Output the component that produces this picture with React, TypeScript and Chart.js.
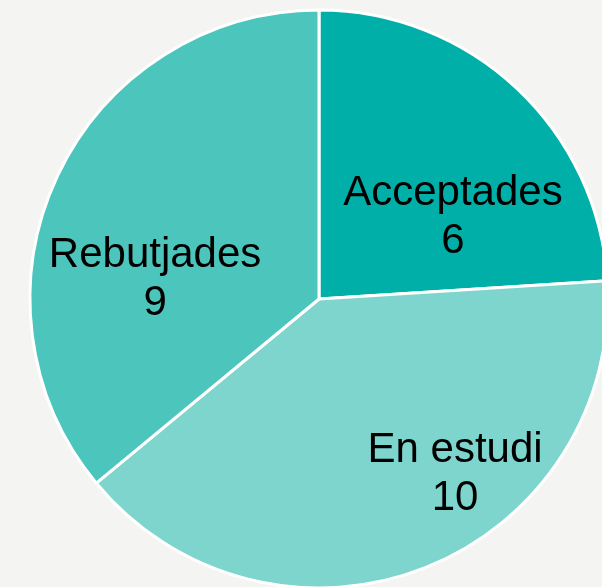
import React, { useEffect, useRef } from "react";
import { Chart, registerables } from "chart.js";

Chart.register(...registerables);

const categories = ["Acceptades", "En estudi", "Rebutjades"];
const values = [6, 10, 9];
const colors = ["#00B0A8", "#7DD5CE", "#4CC5BD"];
// label anchor inside each slice: fraction along the slice's angle span, fraction of radius
const labelAngleFrac = [0.636, 0.373, 0.391];
const labelRadiusFrac = [0.566, 0.734, 0.578];

const labelPlugin = {
  id: "sliceLabels",
  afterDatasetsDraw(chart: any) {
    const ctx = chart.ctx;
    const meta = chart.getDatasetMeta(0);
    ctx.save();
    ctx.fillStyle = "#000000";
    ctx.font = "42px 'Liberation Sans', Arial, sans-serif";
    ctx.textAlign = "center";
    ctx.textBaseline = "alphabetic";
    meta.data.forEach((arc: any, i: number) => {
      const p = arc.getProps(["x", "y", "startAngle", "endAngle", "outerRadius"], true);
      const a = p.startAngle + labelAngleFrac[i] * (p.endAngle - p.startAngle);
      const r = labelRadiusFrac[i] * p.outerRadius;
      const x = p.x + Math.cos(a) * r;
      const y = p.y + Math.sin(a) * r;
      ctx.fillText(categories[i], x, y);
      ctx.fillText(String(values[i]), x, y + 48);
    });
    ctx.restore();
  },
};

export default function App() {
  const ref = useRef<HTMLCanvasElement | null>(null);
  useEffect(() => {
    if (!ref.current) return;
    const chart = new Chart(ref.current, {
      type: "pie",
      data: {
        labels: categories,
        datasets: [
          {
            data: values,
            backgroundColor: colors,
            borderColor: "#FFFFFF",
            borderWidth: 3,
          },
        ],
      },
      options: {
        responsive: false,
        animation: false,
        radius: 289,
        layout: { padding: 0 },
        plugins: {
          legend: { display: false },
          tooltip: { enabled: false },
        },
      },
      plugins: [labelPlugin],
    });
    return () => chart.destroy();
  }, []);
  return (
    <div
      style={{
        position: "fixed",
        left: 0,
        top: 0,
        width: 602,
        height: 587,
        overflow: "hidden",
        background: "#F4F4F2",
      }}
    >
      <canvas
        ref={ref}
        width={640}
        height={640}
        style={{ position: "absolute", left: -1, top: -21, width: 640, height: 640 }}
      />
    </div>
  );
}
